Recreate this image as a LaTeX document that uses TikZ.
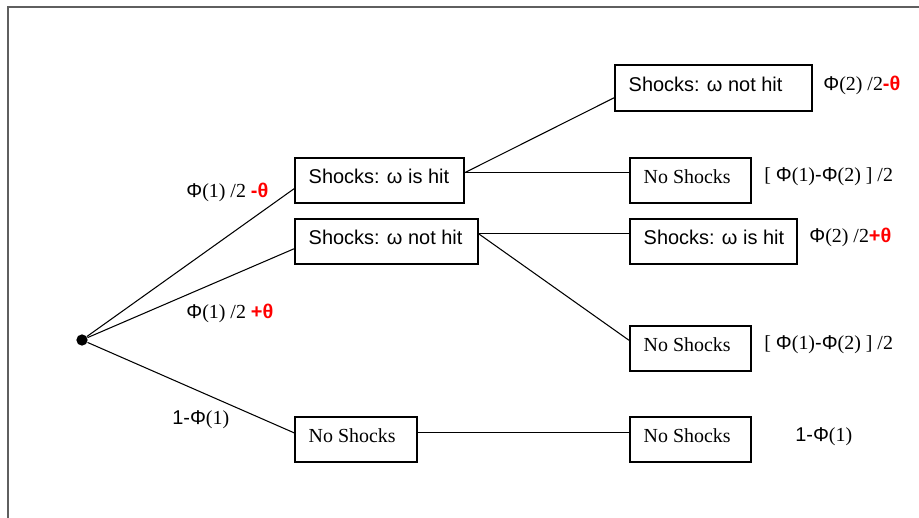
\documentclass[tikz,border=0pt]{standalone}
\usepackage{fontspec}
\setmainfont{Liberation Serif}
\newfontfamily\arialf{Liberation Sans}
\usetikzlibrary{calc}
\definecolor{framegray}{RGB}{95,95,95}
\newcommand{\Ph}{{\arialf Φ}}
\newcommand{\redth}[1]{\textcolor{red}{\arialf\bfseries #1θ}}
\newcommand{\bxt}[2]{\makebox[#1][l]{#2}}
\begin{document}
\begin{tikzpicture}[x=0.567pt,y=-0.567pt,
  font=\fontsize{11.3}{13}\selectfont,
  box/.style={draw, line width=0.9pt, anchor=north west, minimum height=25.5pt,
    inner xsep=7.9pt, inner ysep=0pt, text depth=4.5pt},
  conn/.style={line width=0.6pt},
  lab/.style={anchor=west, inner sep=0pt}]
\useasboundingbox (0,0) rectangle (919,518);
\draw[framegray, line width=1.1pt] (8,518) -- (8,7) -- (919,7);

\node[circle, fill=black, inner sep=0pt, minimum size=6.4pt] (dot) at (82,340) {};

\node[box] (A) at (294,157) {\bxt{80pt}{\arialf Shocks: ω is hit}};
\node[box] (B) at (294,218) {\bxt{88pt}{\arialf Shocks: ω not hit}};
\node[box] (C) at (294,416) {\bxt{53.4pt}{No Shocks}};
\node[box, minimum height=26.1pt] (D) at (614,64) {\bxt{95.9pt}{\arialf Shocks: ω not hit}};
\node[box] (E) at (629,157) {\bxt{52.8pt}{No Shocks}};
\node[box] (F) at (629,218) {\bxt{78.9pt}{\arialf Shocks: ω is hit}};
\node[box] (G) at (629,325) {\bxt{52.8pt}{No Shocks}};
\node[box] (H) at (629,416) {\bxt{52.8pt}{No Shocks}};

\draw[conn] (dot) -- ($(A.west)+(0,8.5)$);
\draw[conn] (dot) -- ($(B.west)+(0,7.5)$);
\draw[conn] (dot) -- ($(C.west)+(0,-6.5)$);
\draw[conn] ($(A.east)+(0,-7.5)$) -- ($(D.west)+(0,10)$);
\draw[conn] ($(A.east)+(0,-7.5)$) -- ($(E.west)+(0,-7.5)$);
\draw[conn] ($(B.east)+(0,-7.5)$) -- ($(F.west)+(0,-7.5)$);
\draw[conn] ($(B.east)+(0,-7.5)$) -- ($(G.west)+(0,-8)$);
\draw[conn] ($(C.east)+(0,-7)$) -- ($(H.west)+(0,-7)$);

\node[lab] (l1) at (186,192) {\Ph(1) /2 \redth{-}};
\node[lab] (l2) at (186,313) {\Ph(1) /2 \redth{+}};
\node[lab] (l3) at (172,420) {{\arialf 1-}\Ph(1)};
\node[lab] (r1) at (823,85) {\Ph(2) /2\redth{-}};
\node[lab] (r2) at (764,177) {[ \Ph(1){\arialf -}\Ph(2) ] /2};
\node[lab] (r3) at (809,237) {\Ph(2) /2\redth{+}};
\node[lab] (r4) at (764,345) {[ \Ph(1){\arialf -}\Ph(2) ] /2};
\node[lab] (r5) at (795,437) {{\arialf 1-}\Ph(1)};
\end{tikzpicture}
\end{document}
